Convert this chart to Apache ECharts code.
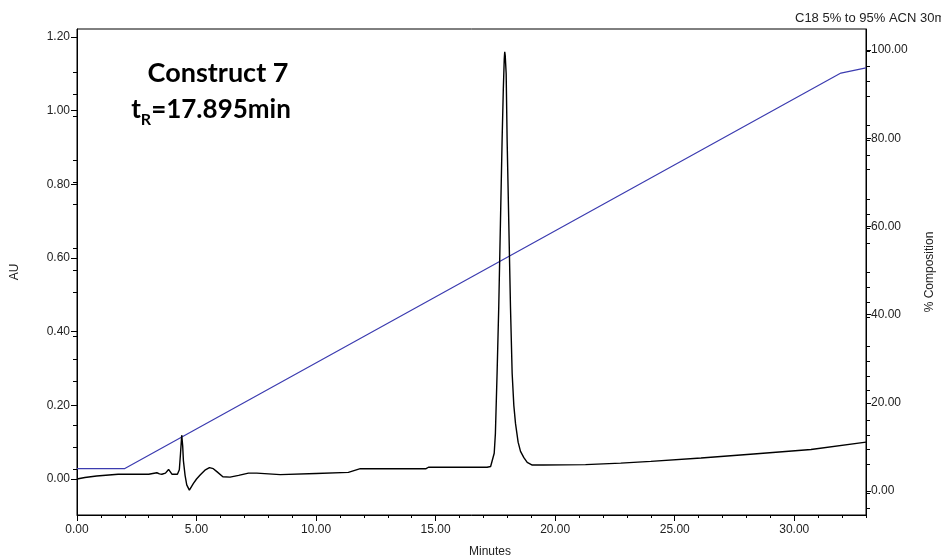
<!DOCTYPE html>
<html>
<head>
<meta charset="utf-8">
<script src="https://cdn.jsdelivr.net/npm/echarts@6/dist/echarts.min.js"></script>
<style>
html,body{margin:0;padding:0;background:#fff;}
#chart{width:941px;height:560px;}
</style>
</head>
<body>
<div id="chart"></div>
<script>
// UV trace (AU) - minutes / absorbance
var traceTime = [0, 0.33, 0.82, 1.72, 2.5, 3.0, 3.34, 3.45, 3.55, 3.7, 3.83, 3.97, 4.2, 4.28, 4.33, 4.38, 4.42, 4.45, 4.52, 4.59, 4.70, 4.87, 5.0, 5.15, 5.35, 5.54, 5.7, 5.85, 6.1, 6.4, 6.76, 7.17, 7.52, 7.58, 8.5, 10.0, 10.05, 11.35, 11.4, 11.85, 14.6, 14.7, 17.15, 17.3, 17.37, 17.45, 17.5, 17.57, 17.64, 17.71, 17.78, 17.83, 17.87, 17.89, 17.91, 17.95, 17.99, 18.06, 18.13, 18.20, 18.27, 18.34, 18.45, 18.55, 18.69, 18.83, 19.04, 19.5, 21.27, 21.3, 22.74, 24.0, 26.1, 28.3, 30.7, 33.0];
var traceAU = [0, 0.004, 0.008, 0.013, 0.013, 0.013, 0.017, 0.014, 0.013, 0.016, 0.026, 0.013, 0.013, 0.025, 0.07, 0.119, 0.09, 0.05, 0.01, -0.016, -0.03, -0.012, 0.0, 0.011, 0.024, 0.031, 0.028, 0.02, 0.006, 0.005, 0.01, 0.016, 0.016, 0.011, 0.012, 0.015, 0.018, 0.018, 0.022, 0.028, 0.028, 0.032, 0.032, 0.034, 0.038, 0.07, 0.124, 0.287, 0.468, 0.694, 0.92, 1.056, 1.14, 1.16, 1.15, 1.10, 0.92, 0.694, 0.468, 0.287, 0.20, 0.151, 0.10, 0.075, 0.058, 0.045, 0.038, 0.038, 0.039, 0.043, 0.043, 0.048, 0.057, 0.068, 0.080, 0.100];

// gradient program (% ACN)
var gradTime = [0, 2.0, 31.95, 33.0];
var gradPct = [5.1, 5.1, 94.8, 96.0];

// axis ticks
var auTicks = [0, 0.2, 0.4, 0.6, 0.8, 1.0, 1.2];
var auMinor = [-0.08, -0.04, 0.04, 0.08, 0.12, 0.16, 0.24, 0.28, 0.32, 0.36, 0.44, 0.48, 0.52, 0.56, 0.64, 0.68, 0.72, 0.76, 0.84, 0.88, 0.92, 0.96, 1.04, 1.08, 1.12, 1.16];
var pctTicks = [0, 20, 40, 60, 80, 100];
var pctMinor = [5, 10, 15, 25, 30, 35, 45, 50, 55, 65, 70, 75, 85, 90, 95];
var minTicks = [0, 5, 10, 15, 20, 25, 30];
var minMinor = [1, 2, 3, 4, 6, 7, 8, 9, 11, 12, 13, 14, 16, 17, 18, 19, 21, 22, 23, 24, 26, 27, 28, 29, 31, 32, 33];

var font = 'Liberation Sans';
var labelColor = '#222';
var plotH = 560 - 29 - 45;

function zip(a, b) {
  return a.map(function (v, i) { return [v, b[i]]; });
}

var chart = echarts.init(document.getElementById('chart'));

chart.setOption({
  animation: false,
  grid: {
    left: 77, right: 75, top: 29, bottom: 45,
    outerBoundsMode: 'none', containLabel: false,
    show: true, borderColor: '#000', borderWidth: 1, backgroundColor: 'transparent'
  },
  xAxis: [{
    type: 'value', min: 0, max: 33, position: 'bottom',
    name: 'Minutes', nameLocation: 'middle', nameGap: 31,
    nameTextStyle: { fontFamily: font, fontSize: 12, color: labelColor, padding: [0, 0, 0, 37] },
    axisLine: { onZero: false, lineStyle: { color: '#000', width: 1 } },
    axisTick: { customValues: minTicks, length: 6, lineStyle: { color: '#000' } },
    axisLabel: {
      customValues: minTicks, margin: 9, fontFamily: font, fontSize: 12, color: labelColor,
      formatter: function (v) { return v.toFixed(2); }
    },
    splitLine: { show: false }
  }, {
    // minor ticks: second x axis goes to the top, pushed down onto the bottom edge
    type: 'value', min: 0, max: 33, position: 'top', offset: -plotH,
    axisLine: { show: false, onZero: false },
    axisTick: { customValues: minMinor, length: 3, inside: true, lineStyle: { color: '#000' } },
    axisLabel: { show: false },
    splitLine: { show: false }
  }],
  yAxis: [{
    type: 'value', min: -0.0977, max: 1.2217, position: 'left',
    name: 'AU', nameLocation: 'middle', nameGap: 56, nameRotate: 90,
    nameTextStyle: { fontFamily: font, fontSize: 12, color: labelColor },
    axisLine: { show: true, onZero: false, lineStyle: { color: '#000', width: 1 } },
    axisTick: { customValues: auTicks, length: 6, lineStyle: { color: '#000' } },
    axisLabel: {
      customValues: auTicks, margin: 7, fontFamily: font, fontSize: 12, color: labelColor,
      formatter: function (v) { return v.toFixed(2); }
    },
    splitLine: { show: false }
  }, {
    type: 'value', min: -5.44, max: 104.8, position: 'right',
    name: '% Composition', nameLocation: 'middle', nameGap: 58, nameRotate: 90,
    nameTextStyle: { fontFamily: font, fontSize: 12, color: labelColor },
    axisLine: { show: true, onZero: false, lineStyle: { color: '#000', width: 1 } },
    axisTick: { customValues: pctTicks, length: 5, lineStyle: { color: '#000' } },
    axisLabel: {
      customValues: pctTicks, margin: 5, fontFamily: font, fontSize: 12, color: labelColor,
      formatter: function (v) { return v.toFixed(2); }
    },
    splitLine: { show: false }
  }, {
    // AU minor ticks (side already used, so echarts flips 'right' to the left side)
    type: 'value', min: -0.0977, max: 1.2217, position: 'right',
    axisLine: { show: false, onZero: false },
    axisTick: { customValues: auMinor, length: 4, lineStyle: { color: '#000' } },
    axisLabel: { show: false },
    splitLine: { show: false }
  }, {
    // % minor ticks (flipped to the right side)
    type: 'value', min: -5.44, max: 104.8, position: 'left',
    axisLine: { show: false, onZero: false },
    axisTick: { customValues: pctMinor, length: 4, lineStyle: { color: '#000' } },
    axisLabel: { show: false },
    splitLine: { show: false }
  }],
  series: [{
    name: '% ACN',
    type: 'line',
    xAxisIndex: 0, yAxisIndex: 1,
    data: zip(gradTime, gradPct),
    showSymbol: false,
    lineStyle: { color: '#3c3cb0', width: 1.2 },
    z: 2
  }, {
    name: 'AU',
    type: 'line',
    xAxisIndex: 0, yAxisIndex: 0,
    data: zip(traceTime, traceAU),
    showSymbol: false,
    lineStyle: { color: '#000', width: 1.4 },
    z: 3
  }],
  graphic: [{
    type: 'text', left: 795, top: 12,
    style: { text: 'C18 5% to 95% ACN 30min', font: '13px "Liberation Sans"', fill: labelColor }
  }, {
    type: 'text', x: 218, y: 73,
    style: {
      text: 'Construct 7', font: 'bold 27px Lato', fill: '#000',
      align: 'center', verticalAlign: 'middle'
    }
  }, {
    type: 'text', x: 211, y: 110,
    style: {
      text: '{a|t}{b|R}{a|=17.895min}', fill: '#000',
      align: 'center', verticalAlign: 'middle',
      rich: {
        a: { fontFamily: 'Lato', fontWeight: 'bold', fontSize: 26, fill: '#000', verticalAlign: 'bottom' },
        b: { fontFamily: 'Lato', fontWeight: 'bold', fontSize: 16, fill: '#000', verticalAlign: 'bottom', padding: [0, 0, -5, 0] }
      }
    }
  }]
});
</script>
</body>
</html>
